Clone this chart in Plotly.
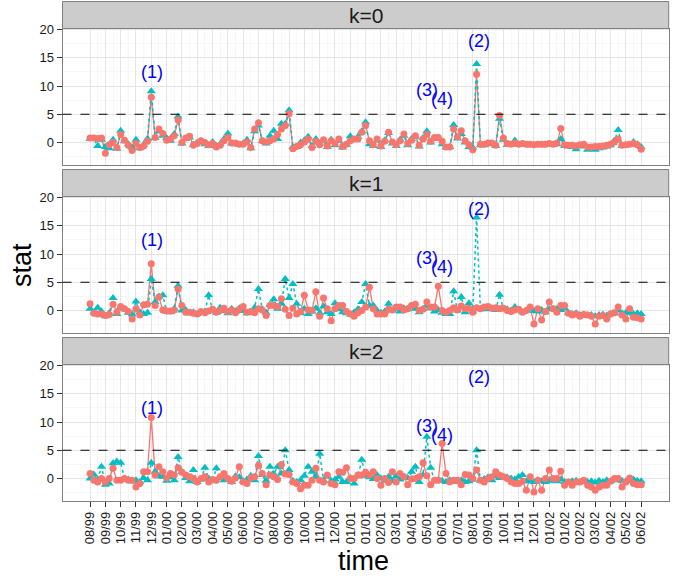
import plotly.graph_objects as go

# ---------------- data ----------------
tick_labels = ["08/99", "09/99", "10/99", "11/99", "12/99", "01/00", "02/00", "03/00",
               "04/00", "05/00", "06/00", "07/00", "08/00", "09/00", "10/00", "11/00",
               "12/00", "01/01", "01/01", "02/01", "03/01", "04/01", "05/01", "06/01",
               "07/01", "08/01", "09/01", "10/01", "11/01", "12/01", "01/02", "01/02",
               "02/02", "03/02", "04/02", "05/02", "06/02"]
weeks_per_tick = 4

k0_red = [0.8, 0.8, 0.7, 0.8, -1.9, -0.4, 0.0, -0.9, 1.4, 0.4,
          -0.5, -1.4, -0.2, -0.9, -0.6, 0.2, 8.0, 0.9, 2.4, 1.6,
          0.4, 0.6, 1.2, 4.0, 0.0, 0.8, 1.1, -0.5, -0.2, 0.3,
          0.0, -0.4, -0.2, -0.8, -0.5, 0.3, 0.9, -0.1, -0.1, -0.3,
          -0.3, 0.1, -0.9, 2.4, 3.5, 0.3, 0.1, 0.3, 0.6, 1.4,
          2.4, 3.0, 5.1, -1.1, -0.7, -0.4, 0.1, 0.6, -0.9, 0.2,
          -0.4, 0.5, -0.6, 0.3, -0.2, 0.6, -0.7, -0.3, 0.3, 0.6,
          0.6, 1.8, 3.0, 0.3, -0.4, 0.6, -0.6, 0.2, 1.8, 0.1,
          -0.4, 0.3, 1.5, -0.2, 0.4, 1.2, -0.5, 0.6, 1.4, 0.2,
          0.9, 0.9, 0.2, -0.8, -0.8, 2.4, 1.0, 2.1, 0.3, -0.4,
          -1.3, 12.1, -0.3, -0.3, -0.1, -0.1, -0.5, 4.8, 0.8, -0.2,
          -0.3, -0.1, -0.3, -0.2, -0.3, -0.3, -0.4, -0.3, -0.3, -0.3,
          -0.2, -0.3, -0.1, 2.5, -0.4, -0.5, -0.5, -0.6, -0.4, -0.3,
          -0.8, -0.8, -0.7, -0.7, -0.6, -0.5, -0.3, 0.1, 0.6, -0.5,
          -0.4, -0.3, -0.2, -0.4, -1.2]

k0_cyan = [0.6, 0.7, -0.6, 0.5, -0.8, -1.0, 0.5, -1.1, 2.1, 0.2,
           -0.3, -0.9, 0.5, -1.0, -0.4, 0.65, 9.1, 0.8, 2.0, 1.2,
           0.8, 0.3, 1.5, 4.6, -0.2, 0.6, 0.9, -0.4, 0.0, 0.2,
           -0.3, -0.6, 0.1, -0.6, -0.3, 0.6, 1.6, -0.2, -0.3, -0.4,
           -0.2, 0.5, -1.0, 2.0, 3.0, 0.2, -0.2, 1.2, 2.1, 0.6,
           3.3, 3.3, 5.7, -0.8, -0.8, 0.0, 0.4, 1.0, -0.6, 0.6,
           -0.2, 0.2, -0.8, 0.5, -0.5, 0.3, -0.9, -0.4, 1.1, 0.5,
           1.0, 2.0, 3.6, -0.3, -0.6, 0.4, -0.8, 0.4, 1.7, -0.2,
           -0.6, 0.5, 1.2, -0.5, 0.6, 1.0, -0.7, 0.8, 2.0, 0.0,
           0.6, 0.8, -0.3, -0.9, -0.8, 3.1, 0.7, 1.5, 0.0, -0.8,
           -0.9, 13.9, -0.5, -0.5, -0.2, -0.3, -0.6, 4.2, 0.5, -0.4,
           -0.4, 0.35, -0.4, -0.3, -0.4, -0.5, -0.4, -0.4, -0.5, -0.4,
           -0.3, -0.4, -0.3, 0.6, -0.6, -0.7, -0.8, -1.2, -0.7, -0.6,
           -1.3, -1.0, -1.3, -1.0, -0.9, -0.7, -0.5, 0.3, 2.2, -0.6,
           -0.5, -0.4, 0.1, -0.3, -0.8]

k1_red = [1.2, -0.5, -0.6, -0.6, -0.9, -0.7, 1.1, -0.3, 0.7, 0.3,
          -0.2, -1.5, 0.3, -0.8, 1.0, 1.1, 8.3, 0.9, 2.4, 0.1,
          -0.1, -0.1, 0.1, 3.8, 0.9, -0.3, -0.3, -0.5, -0.6, -0.2,
          -0.4, -0.1, 0.2, -0.3, 0.0, 0.4, -0.2, 0.1, -0.4, 0.2,
          0.7, -0.3, -0.2, -0.4, 0.3, 0.1, -0.9, 0.9, 0.9, 0.7,
          2.1, 0.2, -0.9, 0.4, -0.6, -0.2, 2.7, 0.1, 0.0, 3.3,
          -1.0, 2.2, 0.3, -1.8, 0.3, 0.9, 0.9, -0.2, -0.6, -1.0,
          -0.4, 0.0, 0.6, 4.1, 0.3, -0.6, -0.6, -0.6, 0.2, 0.1,
          0.6, 0.6, 0.1, 0.3, 0.9, 1.1, 0.0, 0.2, 1.5, 0.6,
          0.6, 4.3, 0.0, -0.3, 0.0, 0.5, 0.1, 0.8, 0.3, 0.4,
          -0.3, 0.5, 0.3, 0.6, 0.7, 0.4, 0.5, 0.3, 0.4, 0.0,
          -0.2, 0.1, 0.2, -0.3, 0.0, 0.6, -2.4, 0.3, -1.7, -0.2,
          1.5, 0.3, -0.3, 0.9, 0.9, -0.5, -0.8, -0.6, -1.0, -0.7,
          -0.8, -1.0, -2.4, -1.0, -0.9, -1.5, -0.6, -0.4, 0.6, -0.8,
          -1.5, 0.3, -1.2, -1.3, -1.5]

k1_cyan = [0.3, -0.3, 0.5, -0.2, -1.0, -0.5, 2.2, -0.6, 0.6, 0.2,
           -0.4, -0.7, 1.6, -0.3, -0.6, -0.4, 5.6, 1.5, 2.5, 2.7,
           -0.2, -0.3, 0.3, 4.4, 0.0, 0.1, -0.5, -0.3, -0.6, -0.4,
           -0.2, 2.7, 0.1, -0.4, 0.5, -0.1, -0.5, 0.3, -0.2, 0.4,
           -0.1, -0.5, -0.3, 0.5, 3.8, 0.2, -0.4, 1.0, 2.0, 0.3,
           1.2, 5.6, 2.2, 4.7, 1.2, -0.5, 0.3, -0.6, -0.2, 0.4,
           -0.5, 0.7, -0.3, -0.6, 1.3, 0.2, -0.3, -0.5, -0.7, -0.3,
           0.2, 1.5, 4.7, 0.9, 0.9, 0.0, -0.4, -0.2, 1.2, 0.0,
           0.3, -0.2, 0.4, 0.2, 0.6, 0.3, -0.3, 0.3, 0.8, 0.4,
           -0.2, 0.1, -0.4, -0.6, -0.6, 3.4, 0.0, 2.4, -0.3, 1.3,
           -0.2, 16.5, 0.2, 0.3, 0.2, 0.4, 0.1, 2.8, 0.3, 0.2,
           0.0, 0.6, 0.1, -0.3, 0.0, 0.4, -0.1, -0.2, 0.1, -0.3,
           0.2, 0.3, 0.3, 0.1, 0.4, -0.4, -0.6, -0.5, -0.8, -0.7,
           -0.9, -0.8, -1.0, -0.8, -0.7, -0.9, -0.6, -0.5, 0.0, -0.5,
           -0.4, -0.3, -0.6, -0.5, -0.6]

k2_red = [0.9, -0.3, -0.6, 0.0, -0.6, 0.0, 1.8, -0.3, -0.3, 0.0,
          -0.3, -0.3, -1.5, -0.9, 1.2, 1.2, 10.8, 0.6, 2.1, 1.2,
          0.1, 0.9, 0.6, 1.9, 1.1, 0.6, 0.3, 0.0, -0.6, 0.0,
          0.3, -0.6, -0.2, -0.3, 0.3, 0.9, 0.0, -0.5, 0.1, 2.1,
          -0.6, -0.9, 0.1, 0.3, 2.3, 0.9, -1.1, 0.6, 0.3, -0.2,
          2.5, 0.8, 0.7, -0.6, -0.9, -1.8, -1.2, -1.2, -0.3, 1.8,
          -0.3, -0.6, 0.6, -0.9, -1.1, 1.2, 1.1, 1.9, 0.0, 0.0,
          0.6, 0.6, 1.1, 0.6, 1.2, 0.0, -1.2, 0.0, -0.7, 1.2,
          -0.6, 0.9, 0.3, -1.1, -0.1, 0.0, 0.3, 2.8, 0.5, -1.1,
          -0.3, -0.3, 6.2, 0.9, -0.6, -0.3, -0.3, -1.1, 0.7, 0.6,
          0.0, 1.5, -0.3, -0.6, 0.0, 0.3, 1.2, 0.6, 0.3, 0.0,
          -0.6, -0.9, -0.9, -0.5, -2.1, 0.3, -2.4, -0.3, -2.1, 0.0,
          1.5, 0.0, 0.0, 1.3, -1.2, -0.6, -1.2, -0.6, -0.6, -0.3,
          -1.2, -1.5, -2.1, -1.5, -1.2, -1.2, -0.5, 0.0, 0.0, -1.5,
          -0.6, 0.1, -0.9, -1.1, -1.1]

k2_cyan = [0.0, 0.7, -0.2, 2.1, -1.1, -0.9, 2.7, 3.0, 2.8, 0.0,
           -0.2, -0.5, -0.3, -0.6, 0.1, -0.3, 2.8, 1.2, 0.4, 0.3,
           -0.4, 0.2, -0.3, 3.8, 1.2, 0.1, -0.5, 1.5, -0.6, -0.2,
           1.9, 0.0, -0.5, 1.8, 0.2, -0.3, 0.0, -0.6, 0.4, 0.2,
           -0.5, -0.2, 0.5, -0.3, 4.0, 0.6, -0.4, 2.1, 0.8, 2.1,
           0.9, 5.0, 1.5, -0.4, -0.6, -0.3, 0.5, 2.1, 1.2, 0.2,
           4.4, -0.3, 0.4, -0.5, -0.2, 0.3, -0.6, -0.6, 0.1, -0.9,
           0.4, 3.3, 0.5, 0.2, -0.1, 0.6, 0.0, -0.4, 0.3, -0.5,
           0.4, -0.2, 0.3, 0.1, 1.2, 2.1, -0.6, 0.6, 7.4, 1.9,
           -0.5, -0.3, -0.4, -0.6, -0.3, -0.5, -0.6, -0.3, -0.6, -0.5,
           -0.2, 5.0, -0.4, -0.1, 0.2, -0.3, 0.4, 0.1, 0.3, 0.2,
           0.0, -0.2, 0.3, 0.6, -0.5, -0.4, -0.6, -0.3, -0.5, -0.6,
           -0.3, -0.4, -0.5, -0.2, -0.6, -0.7, -0.5, -0.4, -0.6, -0.5,
           -0.6, -0.5, -0.7, -0.4, -0.6, -0.3, -0.5, -0.3, -0.2, -0.4,
           -0.5, -0.3, -0.2, -0.4, -0.5]

panel_names = ["k=0", "k=1", "k=2"]
red_series = [k0_red, k1_red, k2_red]
cyan_series = [k0_cyan, k1_cyan, k2_cyan]
threshold = 5
note_labels = ["(1)", "(2)", "(3)", "(4)"]
note_x = [16.3, 101.5, 88.1, 91.9]
note_y = [12.55, 18.0, 9.3, 7.7]

# ---------------- layout constants ----------------
W, H = 686, 581
FONT = "Liberation Sans, Arial, Helvetica, sans-serif"
RED = "#F8766D"
CYAN = "#00BFC4"
BORDER = "#7F7F7F"
X_LEFT, X_RIGHT = 62.5, 668.7
PLOT_TOPS = [28.5, 196.5, 364.5]
PLOT_H = 136.0
STRIP_H = 27.0

n = len(k0_red)
xs = list(range(n))
tickvals = [i * weeks_per_tick for i in range(len(tick_labels))]
minor_vals = [v + weeks_per_tick / 2 for v in tickvals[:-1]]
x_range = [-7.2, 151.2]
y_range = [-3.9, 20.2]

fig = go.Figure()
shapes = []
annotations = []

for p in range(3):
    suffix = "" if p == 0 else str(p + 1)
    xa, ya = "x" + suffix, "y" + suffix
    fig.add_trace(go.Scatter(x=xs, y=red_series[p], mode="lines", xaxis=xa, yaxis=ya,
                             line=dict(color=RED, width=1.3), showlegend=False, hoverinfo="skip"))
    fig.add_trace(go.Scatter(x=xs, y=cyan_series[p], mode="lines+markers", xaxis=xa, yaxis=ya,
                             line=dict(color=CYAN, width=1.5, dash="dot"),
                             marker=dict(symbol="triangle-up", size=8, color=CYAN),
                             showlegend=False))
    fig.add_trace(go.Scatter(x=xs, y=red_series[p], mode="markers", xaxis=xa, yaxis=ya,
                             marker=dict(symbol="circle", size=7, color=RED),
                             showlegend=False))

    top = PLOT_TOPS[p]
    dom = [1 - (top + PLOT_H) / H, 1 - top / H]
    last = p == 2
    fig.layout["xaxis" + suffix] = dict(
        domain=[X_LEFT / W, X_RIGHT / W], range=x_range, anchor=ya, automargin=False,
        tickmode="array", tickvals=tickvals, ticktext=tick_labels,
        showticklabels=last, ticks="outside" if last else "", ticklen=5, tickwidth=1,
        tickcolor="#333333", tickangle=-90,
        tickfont=dict(family=FONT, size=13, color="#1a1a1a"),
        showgrid=True, gridcolor="#E5E5E5", gridwidth=1,
        minor=dict(tickvals=minor_vals, showgrid=True, gridcolor="#F7F7F7", gridwidth=1, ticks=""),
        showline=True, mirror=True, linecolor=BORDER, linewidth=1, zeroline=False,
    )
    fig.layout["yaxis" + suffix] = dict(
        domain=dom, range=y_range, anchor=xa, automargin=False,
        tickmode="array", tickvals=[0, 5, 10, 15, 20],
        ticks="outside", ticklen=5, tickwidth=1, tickcolor="#333333",
        tickfont=dict(family=FONT, size=13, color="#1a1a1a"),
        showgrid=True, gridcolor="#E5E5E5", gridwidth=1,
        minor=dict(tickvals=[-2.5, 2.5, 7.5, 12.5, 17.5], showgrid=True, gridcolor="#F7F7F7",
                   gridwidth=1, ticks=""),
        showline=True, mirror=True, linecolor=BORDER, linewidth=1, zeroline=False,
    )
    shapes.append(dict(type="line", xref=xa + " domain", x0=0, x1=1, yref=ya, y0=threshold,
                       y1=threshold, line=dict(color="black", width=1.1, dash="dash")))
    s_top = top - STRIP_H
    shapes.append(dict(type="rect", xref="paper", yref="paper",
                       x0=X_LEFT / W, x1=X_RIGHT / W, y0=1 - top / H, y1=1 - s_top / H,
                       fillcolor="#CCCCCC", line=dict(color=BORDER, width=1), layer="above"))
    annotations.append(dict(text=panel_names[p], xref="paper", yref="paper",
                            x=(X_LEFT + X_RIGHT) / 2 / W, y=1 - (s_top + STRIP_H / 2) / H,
                            showarrow=False, xanchor="center", yanchor="middle",
                            font=dict(family=FONT, size=21, color="#1a1a1a")))
    for lab, nx, ny in zip(note_labels, note_x, note_y):
        annotations.append(dict(text=lab, xref=xa, yref=ya, x=nx, y=ny, showarrow=False,
                                xanchor="center", yanchor="middle",
                                font=dict(family=FONT, size=18, color="#0000FF")))

annotations.append(dict(text="stat", xref="paper", yref="paper", x=22 / W, y=1 - 265 / H,
                        showarrow=False, textangle=-90, xanchor="center", yanchor="middle",
                        font=dict(family=FONT, size=27, color="black")))
annotations.append(dict(text="time", xref="paper", yref="paper", x=363 / W, y=1 - 561 / H,
                        showarrow=False, xanchor="center", yanchor="middle",
                        font=dict(family=FONT, size=27, color="black")))

fig.update_layout(width=W, height=H, autosize=False, margin=dict(l=0, r=0, t=0, b=0, pad=0),
                  paper_bgcolor="white", plot_bgcolor="white", hovermode=False,
                  title=None, shapes=shapes, annotations=annotations, showlegend=False,
                  font=dict(family=FONT))

fig.write_html("out.html",
               config={"displayModeBar": False, "staticPlot": True, "responsive": False},
               post_script="document.body.style.margin='0px';document.body.style.padding='0px';"
                           "document.documentElement.style.overflow='hidden';")
